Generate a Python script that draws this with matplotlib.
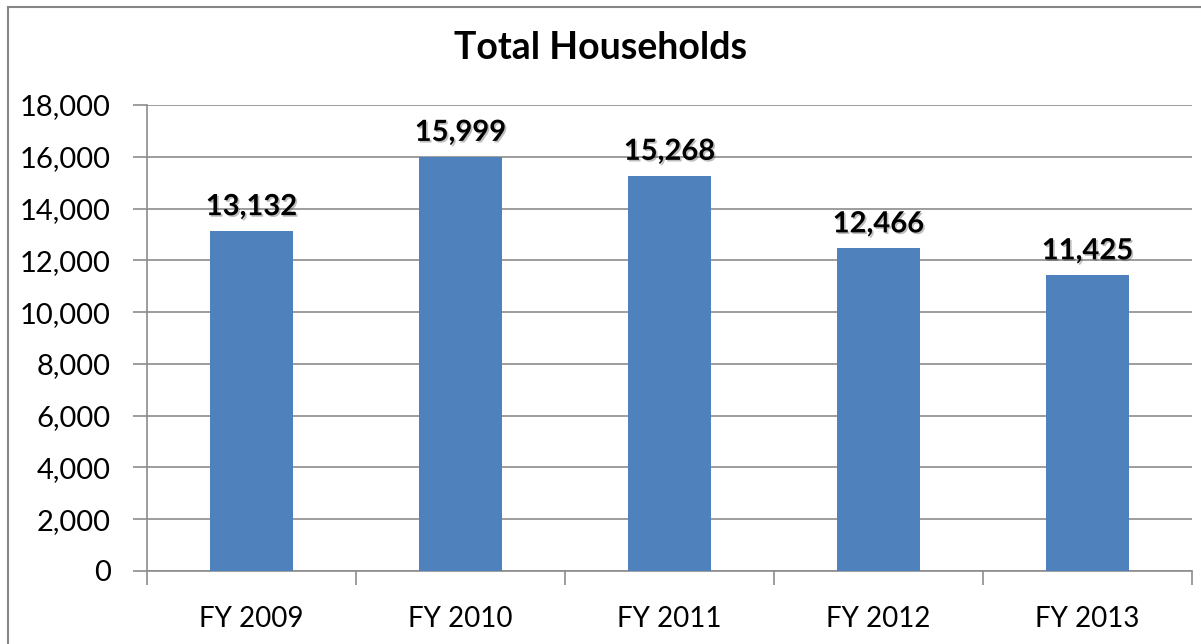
import matplotlib.pyplot as plt
import matplotlib.patheffects as pe
from matplotlib.patches import Rectangle
from matplotlib.ticker import FuncFormatter, MultipleLocator

years = ['FY 2009', 'FY 2010', 'FY 2011', 'FY 2012', 'FY 2013']
households = [13132, 15999, 15268, 12466, 11425]

plt.rcParams['font.family'] = ['Lato', 'DejaVu Sans']

fig = plt.figure(figsize=(12.01, 6.44), dpi=100)
ax = fig.add_axes([0.1224, 0.1134, 0.870, 0.7236])

# outer chart frame (right/bottom edges fall outside the image)
fig.patches.append(Rectangle((8 / 1201, -0.1), 1.2, 1.1 - 7 / 644,
                             transform=fig.transFigure, fill=False,
                             edgecolor='#868686', linewidth=1.5))

x = range(len(years))
ax.bar(x, households, width=0.4, color='#4F81BD', zorder=3)

for i, v in enumerate(households):
    ax.text(i, v + 420, f'{v:,}', ha='center', va='bottom', fontsize=21,
            fontweight='bold',
            path_effects=[pe.withSimplePatchShadow(offset=(1.2, -1.2),
                                                   alpha=0.35,
                                                   shadow_rgbFace='#444444')])

ax.set_xlim(-0.5, 4.5)
ax.set_ylim(0, 18000)
ax.yaxis.set_major_locator(MultipleLocator(2000))
ax.yaxis.set_major_formatter(FuncFormatter(lambda v, p: f'{int(v):,}'))
ax.set_xticks(x)
ax.set_xticklabels(years)
ax.set_xticks([-0.5, 0.5, 1.5, 2.5, 3.5, 4.5], minor=True)

ax.grid(axis='y', color='#8c8c8c', linewidth=1.2, zorder=0)
for s in ['top', 'right']:
    ax.spines[s].set_visible(False)
for s in ['left', 'bottom']:
    ax.spines[s].set_color('#8c8c8c')
    ax.spines[s].set_linewidth(1.2)

ax.tick_params(axis='y', length=10, width=1.2, color='#8c8c8c',
               labelsize=21, pad=16)
ax.tick_params(axis='x', which='major', length=0, labelsize=20, pad=25)
ax.tick_params(axis='x', which='minor', length=10, width=1.2,
               color='#8c8c8c')

fig.text(0.5, 0.925, 'Total Households', ha='center', va='center',
         fontsize=27, fontweight='bold')

fig.savefig('out.png', dpi=100)
